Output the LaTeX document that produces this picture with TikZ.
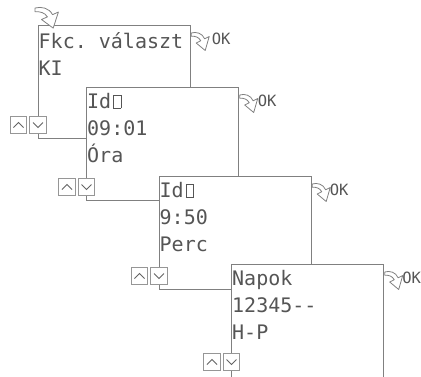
\documentclass[tikz,border=0pt]{standalone}
\usepackage{fontspec}
\setmonofont{DejaVu Sans Mono}
\usetikzlibrary{calc}
\definecolor{boxline}{RGB}{128,128,128}
\definecolor{txtcol}{RGB}{85,85,85}
\definecolor{btnline}{RGB}{150,150,150}
\definecolor{chevcol}{RGB}{100,100,100}
\newcommand\tofuglyph{\makebox[12pt]{{\fboxsep=0pt\fboxrule=0.7pt\fbox{\rule{0pt}{12.5pt}\hspace{6.5pt}}}}}
\tikzset{
  screen/.style={draw=boxline, fill=white, line width=1.2pt, anchor=north west, inner sep=0pt,
    minimum width=152pt, minimum height=112.5pt},
  lcd/.style={anchor=base west, inner sep=0pt, text=txtcol, font=\fontsize{20}{27}\selectfont\ttfamily},
  oktext/.style={anchor=base west, inner sep=0pt, text=txtcol, font=\fontsize{15.5}{20}\selectfont\ttfamily},
  btn/.style={draw=btnline, fill=white, line width=0.8pt, minimum size=16.5pt, inner sep=0pt},
  upbtn/.style={btn, path picture={\draw[chevcol, line width=0.8pt]
    ([xshift=-5pt,yshift=-2.5pt]path picture bounding box.center) -- ++(5pt,5pt) -- ++(5pt,-5pt);}},
  downbtn/.style={btn, path picture={\draw[chevcol, line width=0.8pt]
    ([xshift=-5pt,yshift=2.5pt]path picture bounding box.center) -- ++(5pt,-5pt) -- ++(5pt,5pt);}},
  arrowshape/.style={draw=boxline, fill=white, line width=0.8pt, line join=round},
  okarrow/.pic={\path[arrowshape] (0,0) .. controls (5,-1.5) and (11,0) .. (13.45,5.8)
    -- (18,3.5) -- (14,17.5) -- (5,10) -- (9.55,7.7) .. controls (7.5,4) and (4,3) .. (0,3.2) -- cycle;},
}
\begin{document}
\begin{tikzpicture}[x=1pt,y=-1pt]
\useasboundingbox (0,0) rectangle (421,376);
\clip (0,0) rectangle (421,376);
% screen 1
\node[screen] (b1) at (37.5,25) {};
\node[lcd] (t1) at ($(b1.north west)+(1,23)$) {\begin{tabular}[t]{@{}l@{}}Fkc. választ\\KI\end{tabular}};
\node[upbtn] (u1) at ($(b1.north west)+(-19,100)$) {};
\node[downbtn] (d1) at ($(b1.north west)+(0.5,100)$) {};
\pic[xscale=1.3,yscale=1.15] at (35,8) {okarrow};
\pic at ($(b1.north east)+(0.5,8)$) {okarrow};
\node[oktext] (k1) at ($(b1.north east)+(21,19)$) {OK};
% screen 2
\node[screen] (b2) at (86,87) {};
\node[lcd] (t2) at ($(b2.north west)+(1,21)$) {\begin{tabular}[t]{@{}l@{}}Id\tofuglyph\\09:01\\Óra\end{tabular}};
\node[upbtn] (u2) at ($(b2.north west)+(-19,100)$) {};
\node[downbtn] (d2) at ($(b2.north west)+(0.5,100)$) {};
\pic at ($(b2.north east)+(0.5,8)$) {okarrow};
\node[oktext] (k2) at ($(b2.north east)+(18.5,19)$) {OK};
% screen 3
\node[screen] (b3) at (158.5,176) {};
\node[lcd] (t3) at ($(b3.north west)+(1,21)$) {\begin{tabular}[t]{@{}l@{}}Id\tofuglyph\\9:50\\Perc\end{tabular}};
\node[upbtn] (u3) at ($(b3.north west)+(-19,100)$) {};
\node[downbtn] (d3) at ($(b3.north west)+(0.5,100)$) {};
\pic at ($(b3.north east)+(0.5,8)$) {okarrow};
\node[oktext] (k3) at ($(b3.north east)+(18,19)$) {OK};
% screen 4
\node[screen, minimum height=130pt] (b4) at (231,264) {};
\node[lcd] (t4) at ($(b4.north west)+(1,21)$) {\begin{tabular}[t]{@{}l@{}}Napok\\12345-{}-\\H-P\end{tabular}};
\node[upbtn] (u4) at ($(b4.north west)+(-19,98)$) {};
\node[downbtn] (d4) at ($(b4.north west)+(0.5,98)$) {};
\pic at ($(b4.north east)+(0.5,8)$) {okarrow};
\node[oktext] (k4) at ($(b4.north east)+(18,19)$) {OK};
\end{tikzpicture}
\end{document}
